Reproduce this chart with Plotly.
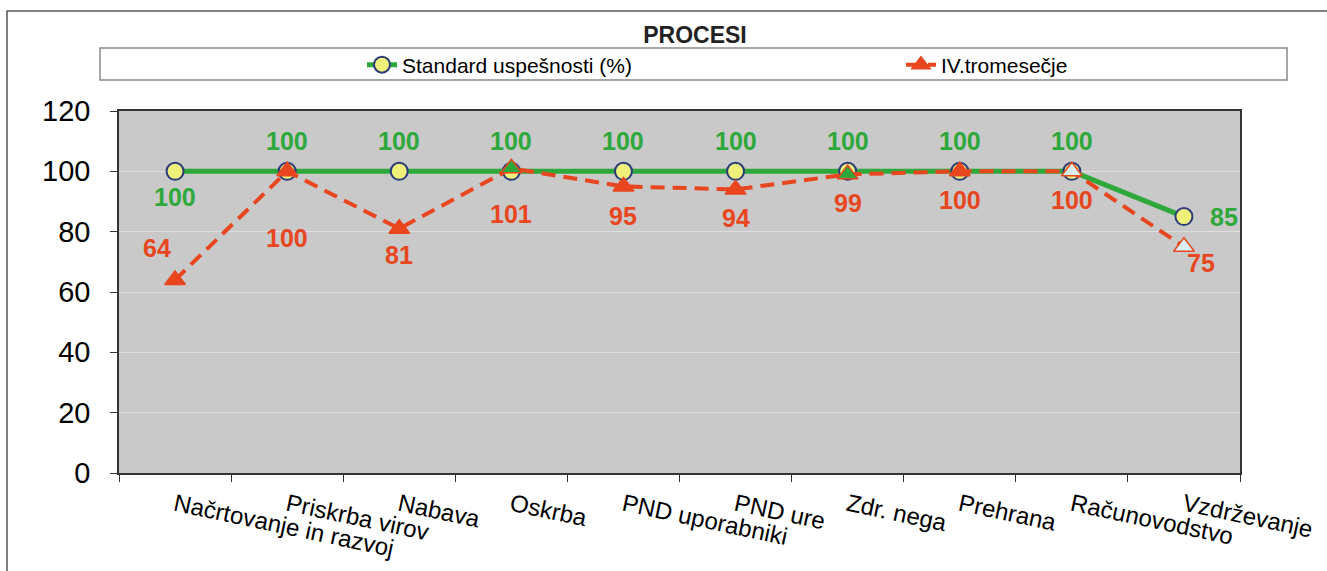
import plotly.graph_objects as go

categories = ["Načrtovanje in razvoj", "Priskrba virov", "Nabava", "Oskrba",
              "PND uporabniki", "PND ure", "Zdr. nega", "Prehrana",
              "Računovodstvo", "Vzdrževanje"]
standard_vals = [100, 100, 100, 100, 100, 100, 100, 100, 100, 85]
iv_vals = [64, 100, 81, 101, 95, 94, 99, 100, 100, 75]
series_names = ["Standard uspešnosti (%)", "IV.tromesečje"]
y_ticks = [0, 20, 40, 60, 80, 100, 120]

W, H = 1327, 571
L, R, T, B = 119, 1240, 111, 473  # plot area in px

def px_x(x):
    return (x - L) / (R - L)

def px_y(y):
    return (B - y) / (B - T)

GREEN = "#2ea83a"
RED = "#e8461e"
FONT = "Arial, Liberation Sans, sans-serif"

# label offsets (styling)
std_off = [(0, -26)] + [(0, 30)] * 8 + [(40, 0)]
iv_off = [(-18, 32), (0, -67), (0, -26), (0, -46), (0, -30), (0, -29),
          (0, -29), (0, -29), (0, -29), (17, -16)]

iv_fill = [RED, RED, RED, GREEN, RED, RED, GREEN, RED, "#d8eef0", "#d8eef0"]

fig = go.Figure()
fig.add_trace(go.Scatter(
    x=categories, y=standard_vals, name=series_names[0], mode="lines+markers",
    line=dict(color=GREEN, width=5),
    marker=dict(symbol="circle", size=17, color="#eef07a",
                line=dict(color="#2b3c7c", width=2)),
))
fig.add_trace(go.Scatter(
    x=categories, y=iv_vals, name=series_names[1], mode="lines+markers",
    line=dict(color=RED, width=4, dash="14px,8px"),
    marker=dict(symbol="triangle-up", size=18, color=iv_fill,
                line=dict(color=RED, width=1.5)),
))

ann = []
for c, v, (dx, dy) in zip(categories, standard_vals, std_off):
    ann.append(dict(x=c, y=v, text=f"<b>{v}</b>", showarrow=False,
                    xshift=dx, yshift=dy,
                    font=dict(family=FONT, size=25, color=GREEN)))
for c, v, (dx, dy) in zip(categories, iv_vals, iv_off):
    ann.append(dict(x=c, y=v, text=f"<b>{v}</b>", showarrow=False,
                    xshift=dx, yshift=dy,
                    font=dict(family=FONT, size=25, color=RED)))

shapes = [
    # outer chart frame
    dict(type="rect", xref="paper", yref="paper",
         x0=px_x(7), x1=px_x(1340), y0=px_y(600), y1=px_y(11),
         line=dict(color="#555", width=1.5), fillcolor="rgba(0,0,0,0)",
         layer="below"),
    # legend box
    dict(type="rect", xref="paper", yref="paper",
         x0=px_x(100), x1=px_x(1287), y0=px_y(80), y1=px_y(48),
         line=dict(color="#8a8a8a", width=1.5), fillcolor="white",
         layer="above"),
]

fig.update_layout(
    width=W, height=H,
    margin=dict(l=L, r=W - R, t=T, b=H - B, autoexpand=False),
    paper_bgcolor="white",
    plot_bgcolor="#c9c9c9",
    font=dict(family=FONT, color="black"),
    title=dict(text="<b>PROCESI</b>", x=695 / W, xanchor="center",
               y=1 - 27 / H, yanchor="top", xref="container", yref="container",
               font=dict(family=FONT, size=23, color="#222")),
    showlegend=True,
    legend=dict(orientation="h", xref="container", yref="container",
                x=362 / W, xanchor="left", y=1 - 65 / H, yanchor="middle",
                bgcolor="rgba(0,0,0,0)", borderwidth=0,
                entrywidth=494, entrywidthmode="pixels",
                font=dict(family=FONT, size=21, color="black")),
    shapes=shapes,
    annotations=ann,
)
fig.update_xaxes(
    type="category", range=[-0.5, len(categories) - 0.5],
    tickson="boundaries", ticks="outside", ticklen=7, tickcolor="#333",
    showline=True, linecolor="#333", linewidth=1.5, mirror=True,
    showgrid=False, tickangle=12, ticklabelstandoff=7,
    tickfont=dict(family=FONT, size=24, color="black"),
)
fig.update_yaxes(
    range=[0, 120], tickvals=y_ticks, ticks="outside", ticklen=7,
    tickcolor="#333", showline=True, linecolor="#333", linewidth=1.5,
    mirror=True, showgrid=True, gridcolor="#dedede", gridwidth=1,
    zeroline=False, ticklabelstandoff=14,
    tickfont=dict(family=FONT, size=29, color="black"),
)

fig.write_html("out.html", config={"displayModeBar": False},
               post_script="document.body.style.margin='0';")
